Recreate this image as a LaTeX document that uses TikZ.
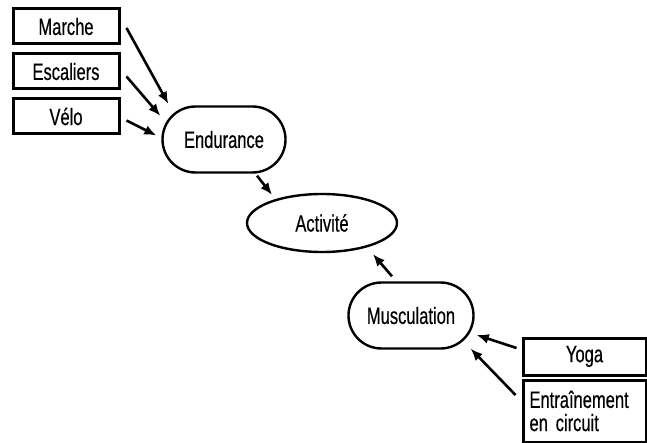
\documentclass[tikz,border=0pt]{standalone}
\usepackage{fontspec}
\setmainfont{Liberation Sans}[FakeStretch=0.7, FakeBold=0.4]
\usetikzlibrary{shapes.geometric,arrows.meta}

\begin{document}
\begin{tikzpicture}[x=0.5pt, y=-0.5pt, node distance={22.5pt},
	font=\fontsize{11.8}{11.6}\selectfont,
	box/.style={draw, line width=1.5pt, minimum width=53pt, minimum height=17.5pt, inner sep=0pt},
	pill/.style={draw, line width=1.2pt, rounded corners=16.5pt, minimum width=61.5pt, minimum height=33pt, inner sep=0pt},
	arr/.style={-{Latex[length=6pt,width=5pt]}, line width=1.3pt}]
		\useasboundingbox (0,0) rectangle (647,443);

		\node[box] (marche) at (66,26.5) {Marche};
		\node[box] (escaliers) [below of=marche] {Escaliers};
		\node[box] (velo) [below of=escaliers] {Vélo};
		\node[pill] (endurance) at (224,139.5) {Endurance};
		\node[draw, ellipse, line width=1.2pt, minimum width=75pt, minimum height=29pt, inner sep=0pt] (activite) at (322,223) {Activité};
		\node[pill, minimum width=62.5pt] (musculation) at (411,315.5) {Musculation};
		\node[box, minimum width=61.5pt, minimum height=18.5pt] (yoga) at (584.5,356.5) {Yoga};
		\node[box, minimum width=61.5pt, minimum height=31pt, text width=55pt, inner xsep=3.25pt, align=left] (circuit) at (584.5,411) {Entraînement\\en circuit};

		\draw[arr] ([shift={(6,1.5)}]marche.east) -- ([shift={(7,-1.5)}]endurance.north west);
		\draw[arr] ([shift={(6,5)}]escaliers.east) -- ([shift={(-1,10.5)}]endurance.north west);
		\draw[arr] ([shift={(6,4)}]velo.east) -- ([shift={(-5,-4)}]endurance.west);
		\draw[arr] ([shift={(33,2)}]endurance.south) -- ([shift={(-50,2)}]activite.north);
		\draw[arr] ([shift={(-19,-5)}]musculation.north) -- ([shift={(51,1)}]activite.south);
		\draw[arr] ([shift={(-5,-8.5)}]yoga.west) -- ([shift={(2,19.5)}]musculation.east);
		\draw[arr] ([shift={(-6,-16)}]circuit.west) -- ([shift={(-4,-1)}]musculation.south east);
	\end{tikzpicture}
\end{document}
